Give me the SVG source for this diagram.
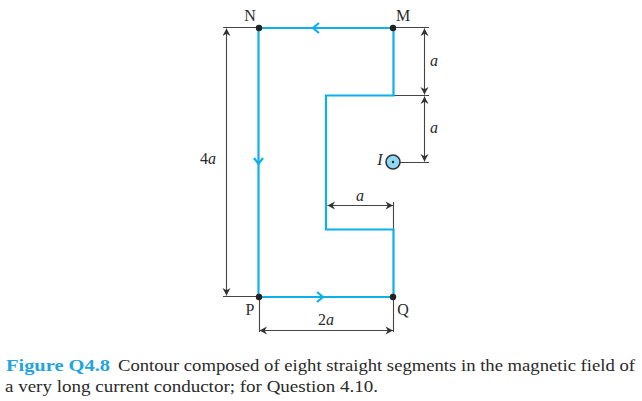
<svg xmlns="http://www.w3.org/2000/svg" width="642" height="401" viewBox="0 0 642 401">
<style>
text{font-family:"Liberation Serif","DejaVu Serif",serif;fill:#2a2a2a}
.l{font-size:16px}
.i{font-size:16px;font-style:italic}
.d{stroke:#444;stroke-width:1.100;fill:none}
.b{stroke:#0db0ea;stroke-width:2.200;fill:none}
.c{font-size:16px}
</style>
<defs>
<marker id="h" markerWidth="9" markerHeight="9" refX="8" refY="4.500" orient="auto-start-reverse" markerUnits="userSpaceOnUse"><path d="M0.500 0.500L8 4.500L0.500 8.500L2.800 4.500Z" fill="#333"/></marker>
</defs>
<rect width="642" height="401" fill="#fff"/>
<g id="connectors">
<path class="d" d="M223 27.500H259M393 27.500H429M394 95.500H429M395 162.500H429M223 296.500H259M259.500 297V332M393.500 297V332M393.500 202V230"/>
<path class="d" marker-start="url(#h)" marker-end="url(#h)" d="M226.500 28.500V295.500"/>
<path class="d" marker-start="url(#h)" marker-end="url(#h)" d="M424.500 28.500V94.500"/>
<path class="d" marker-start="url(#h)" marker-end="url(#h)" d="M424.500 96.500V161.500"/>
<path class="d" marker-start="url(#h)" marker-end="url(#h)" d="M327.500 205.500H393"/>
<path class="d" marker-start="url(#h)" marker-end="url(#h)" d="M259.500 330.500H393"/>
<path class="b" d="M258.500 28H393.500V95.500H326V229.500H393.500V297H258.500Z"/>
<path class="b" d="M319 23L313 28L319 33M254 158L258.500 164L263 158M317 292L323 297L317 302"/>
</g>
<g id="node-N"><circle cx="259" cy="28" r="3.200" fill="#222"/><text class="l" x="250" y="21" text-anchor="middle">N</text></g>
<g id="node-M"><circle cx="393" cy="28" r="3.200" fill="#222"/><text class="l" x="403" y="21" text-anchor="middle">M</text></g>
<g id="node-P"><circle cx="259" cy="297" r="3.200" fill="#222"/><text class="l" x="250" y="315" text-anchor="middle">P</text></g>
<g id="node-Q"><circle cx="393" cy="297" r="3.200" fill="#222"/><text class="l" x="403" y="315" text-anchor="middle">Q</text></g>
<g id="conductor"><circle cx="393" cy="162" r="7" fill="#8fd8f5" stroke="#333" stroke-width="1.600"/><circle cx="393" cy="162" r="1.200" fill="#222"/><text class="i" x="380" y="165" text-anchor="middle">I</text></g>
<g id="labels">
<text class="l" x="208" y="164" text-anchor="middle">4<tspan font-style="italic">a</tspan></text>
<text class="i" x="434" y="66" text-anchor="middle">a</text>
<text class="i" x="434" y="133" text-anchor="middle">a</text>
<text class="i" x="360" y="201" text-anchor="middle">a</text>
<text class="l" x="326" y="325" text-anchor="middle">2<tspan font-style="italic">a</tspan></text>
</g>
<g id="caption">
<text class="c" x="6" y="371" font-weight="bold" style="fill:#22a5dc" textLength="104" lengthAdjust="spacingAndGlyphs">Figure Q4.8</text>
<text class="c" x="118" y="371" textLength="517" lengthAdjust="spacingAndGlyphs">Contour composed of eight straight segments in the magnetic field of</text>
<text class="c" x="5" y="392" textLength="373" lengthAdjust="spacingAndGlyphs">a very long current conductor; for Question 4.10.</text>
</g>
</svg>
